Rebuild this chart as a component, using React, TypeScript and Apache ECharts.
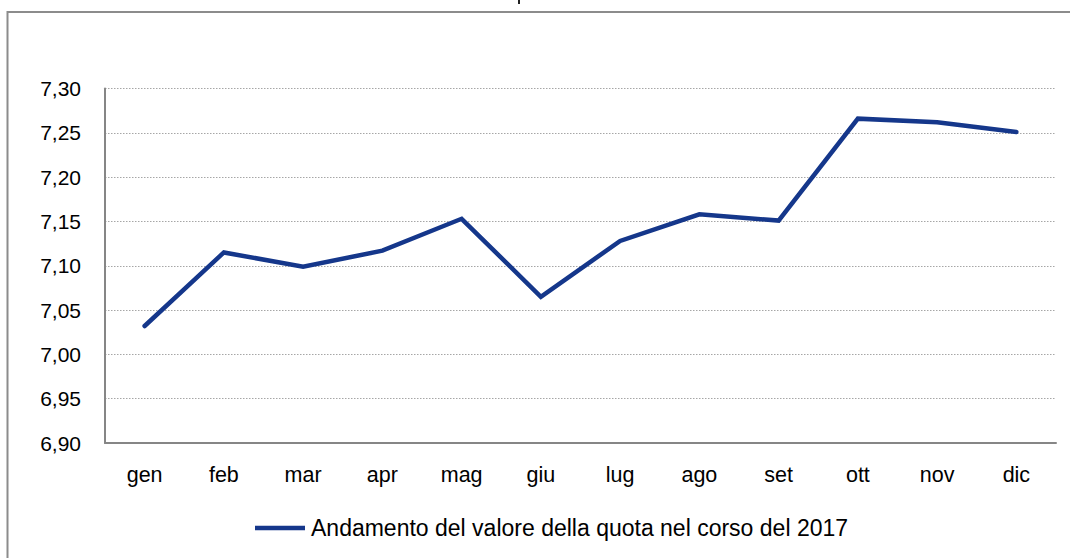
import React, { useEffect, useRef } from "react";
import * as echarts from "echarts";

const categories = ["gen", "feb", "mar", "apr", "mag", "giu", "lug", "ago", "set", "ott", "nov", "dic"];
const values = [7.032, 7.115, 7.099, 7.117, 7.153, 7.065, 7.128, 7.158, 7.151, 7.266, 7.262, 7.251];
const seriesName = "Andamento del valore della quota nel corso del 2017";
const yMin = 6.9;
const yMax = 7.3;
const yStep = 0.05;

const FONT = "'Liberation Sans', Arial, sans-serif";

export default function App() {
  const ref = useRef<HTMLDivElement>(null);
  useEffect(() => {
    if (!ref.current) return;
    const chart = echarts.init(ref.current, undefined, { renderer: "svg" });
    chart.setOption({
      animation: false,
      backgroundColor: "#ffffff",
      textStyle: { fontFamily: FONT },
      graphic: [
        {
          type: "rect",
          shape: { x: 7.5, y: 12, width: 1200, height: 700 },
          style: { fill: "none", stroke: "#8c8c8c", lineWidth: 2 },
          silent: true,
        },
        {
          type: "rect",
          shape: { x: 518, y: 0, width: 2, height: 4 },
          style: { fill: "#222" },
          silent: true,
        },
      ],
      grid: { left: 105, right: 14, top: 88.5, bottom: 115, containLabel: false },
      legend: {
        left: 250,
        top: 511.5,
        icon: "rect",
        itemWidth: 50,
        itemHeight: 4.5,
        itemGap: 10,
        textStyle: { fontFamily: FONT, fontSize: 23, color: "#000", padding: [0, 0, 0, 1] },
        data: [seriesName],
      },
      xAxis: {
        type: "category",
        data: categories,
        boundaryGap: true,
        axisLine: { show: true, lineStyle: { color: "#868686", width: 2 } },
        axisTick: { show: false },
        axisLabel: { color: "#000", fontSize: 21.5, fontFamily: FONT, margin: 21 },
        splitLine: { show: false },
      },
      yAxis: {
        type: "value",
        min: yMin,
        max: yMax,
        interval: yStep,
        axisLine: { show: true, lineStyle: { color: "#868686", width: 2 } },
        axisTick: { show: false },
        axisLabel: {
          color: "#000",
          fontSize: 21,
          fontFamily: FONT,
          margin: 24,
          formatter: (v: number) => v.toFixed(2).replace(".", ","),
        },
        splitLine: { show: true, lineStyle: { color: "#a6a6a6", type: [1.5, 1.5], width: 1 } },
      },
      series: [
        {
          name: seriesName,
          type: "line",
          data: values,
          symbol: "none",
          lineStyle: { color: "#15378b", width: 4.5, cap: "round", join: "miter" },
          itemStyle: { color: "#15378b" },
        },
      ],
    });
    return () => chart.dispose();
  }, []);
  return (
    <div
      ref={ref}
      style={{ position: "absolute", left: 0, top: 0, width: 1070, height: 558 }}
    />
  );
}
